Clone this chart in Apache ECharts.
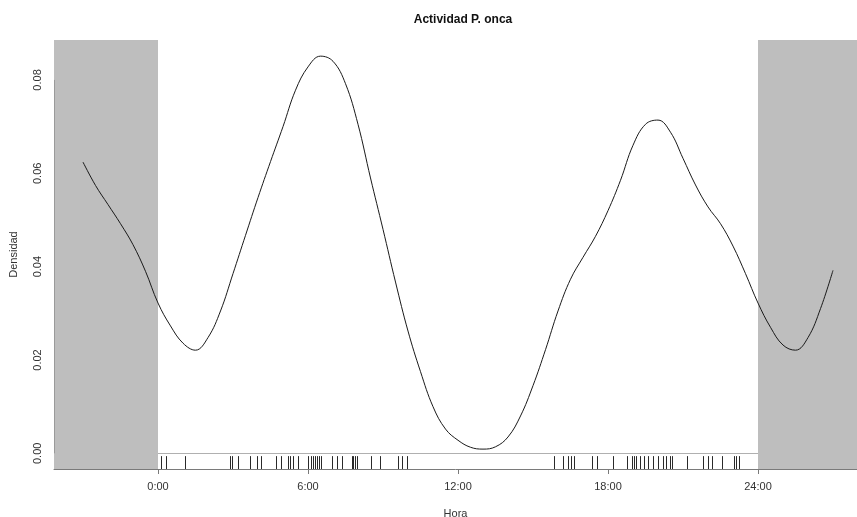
<!DOCTYPE html>
<html>
<head>
<meta charset="utf-8">
<script src="https://cdn.jsdelivr.net/npm/echarts@6/dist/echarts.min.js"></script>
<style>
  html, body { margin: 0; padding: 0; background: #ffffff; }
  #chart { width: 857px; height: 517px; }
</style>
</head>
<body>
<div id="chart"></div>
<script>
// Kernel density of activity (hours), drawn from -3 h to 27 h so the circular day wraps
const hours = [
  -3, -2.5, -2, -1.5, -1, -0.5, 0, 0.5, 1, 1.5, 2, 2.5, 3, 3.5, 4, 4.5, 5, 5.5, 6, 6.5,
  7, 7.5, 8, 8.5, 9, 9.5, 10, 10.5, 11, 11.5, 12, 12.5, 13, 13.5, 14, 14.5, 15, 15.5, 16, 16.5,
  17, 17.5, 18, 18.5, 19, 19.5, 20, 20.5, 21, 21.5, 22, 22.5, 23, 23.5, 24, 24.5, 25, 25.5, 26, 26.5, 27
];
const density = [
  0.0624, 0.0574, 0.0533, 0.0492, 0.0447, 0.0390, 0.0322, 0.0273, 0.0236, 0.0221, 0.0248, 0.0305,
  0.0385, 0.0467, 0.0548, 0.0625, 0.0700, 0.0778, 0.0828, 0.0851, 0.0840, 0.0792, 0.0705, 0.0590,
  0.0480, 0.0367, 0.0262, 0.0175, 0.0100, 0.0052, 0.0028, 0.0013, 0.0009, 0.0014, 0.0035, 0.0080,
  0.0145, 0.0222, 0.0305, 0.0373, 0.0420, 0.0465, 0.0520, 0.0585, 0.0660, 0.0705, 0.0714, 0.0688,
  0.0632, 0.0575, 0.0528, 0.0492, 0.0444, 0.0385, 0.0322, 0.0270, 0.0232, 0.0221, 0.0248, 0.0310, 0.0392
];
// Individual detection times (rug)
const detections = [
  0.12, 0.32, 1.08, 2.88, 2.95, 3.18, 3.68, 3.95, 4.11, 4.72, 4.91, 5.21, 5.28, 5.39, 5.59,
  6.01, 6.11, 6.19, 6.28, 6.35, 6.45, 6.51, 6.95, 7.15, 7.35, 7.75, 7.81, 7.88, 7.95, 8.51,
  8.88, 9.61, 9.75, 9.97, 15.85, 16.22, 16.41, 16.53, 16.63, 17.37, 17.55, 18.2, 18.75, 18.97,
  19.06, 19.12, 19.28, 19.42, 19.61, 19.78, 19.98, 20.22, 20.3, 20.5, 20.55, 21.15, 21.81,
  22.01, 22.18, 22.55, 23.03, 23.13, 23.25
];
const hourTicks = [0, 6, 12, 18, 24];
const hourTickLabels = ['0:00', '6:00', '12:00', '18:00', '24:00'];
const densityTicks = [0, 0.02, 0.04, 0.06, 0.08];
const densityTickLabels = ['0.00', '0.02', '0.04', '0.06', '0.08'];

// Plot ranges (curve range plus the usual 4% padding)
const xMin = -4.16, xMax = 27.96;
const yMin = -0.00336, yMax = 0.08856;
const dayStart = 0, dayEnd = 24;

const axisGray = '#7a7a7a';
const font = 'Liberation Sans, Arial, sans-serif';

const chart = echarts.init(document.getElementById('chart'), null, { renderer: 'canvas' });

chart.setOption({
  animation: false,
  backgroundColor: '#ffffff',
  title: {
    text: 'Actividad P. onca',
    left: 458, top: 9, textAlign: 'center',
    textStyle: { fontFamily: font, fontSize: 12, fontWeight: 'bold', color: '#111' }
  },
  grid: { left: 54, right: 0, top: 40, bottom: 48, containLabel: false, outerBoundsMode: 'none' },
  xAxis: {
    type: 'value', min: xMin, max: xMax,
    name: 'Hora', nameLocation: 'middle', nameGap: 39,
    nameTextStyle: { fontFamily: font, fontSize: 11, color: '#333' },
    splitLine: { show: false },
    axisLine: { show: true, onZero: false, lineStyle: { color: axisGray, width: 1 } },
    axisTick: { show: true, length: 5, inside: false, customValues: hourTicks, lineStyle: { color: axisGray } },
    axisLabel: {
      customValues: hourTicks, margin: 12,
      fontFamily: font, fontSize: 11, color: '#333',
      formatter: v => hourTickLabels[hourTicks.indexOf(v)]
    }
  },
  yAxis: {
    type: 'value', min: yMin, max: yMax,
    name: 'Densidad', nameLocation: 'middle', nameGap: 35, nameRotate: 90,
    nameTextStyle: { fontFamily: font, fontSize: 11, color: '#333' },
    splitLine: { show: false },
    axisLine: { show: false },
    axisTick: { show: true, length: 5, customValues: densityTicks, lineStyle: { color: axisGray } },
    axisLabel: {
      customValues: densityTicks, rotate: 90, margin: 11,
      fontFamily: font, fontSize: 11, color: '#333',
      formatter: v => densityTickLabels[densityTicks.indexOf(v)]
    }
  },
  series: [
    {
      // night shading outside the 0–24 h day and the reference lines
      type: 'line', data: [], z: 1, silent: true,
      markArea: {
        silent: true,
        itemStyle: { color: '#bebebe' },
        data: [
          [{ xAxis: xMin }, { xAxis: dayStart }],
          [{ xAxis: dayEnd }, { xAxis: xMax }]
        ]
      },
      markLine: {
        silent: true, symbol: 'none', label: { show: false },
        data: [
          [{ coord: [dayStart, 0], lineStyle: { color: '#b0b0b0', width: 1, type: 'solid' } },
           { coord: [dayEnd, 0] }],
          [{ coord: [xMin, densityTicks[0]], lineStyle: { color: '#9a9a9a', width: 1, type: 'solid' } },
           { coord: [xMin, densityTicks[densityTicks.length - 1]] }]
        ]
      }
    },
    {
      type: 'line', z: 3, silent: true,
      data: hours.map((h, i) => [h, density[i]]),
      showSymbol: false, smooth: 0.4,
      lineStyle: { color: '#1a1a1a', width: 1 }
    },
    {
      type: 'custom', z: 3, silent: true,
      data: detections.map(h => [h, yMin]),
      encode: { x: 0, y: 1 },
      renderItem(params, api) {
        const h = api.value(0);
        const bottom = api.coord([h, yMin]);
        const top = api.coord([h, yMin + 0.03 * (yMax - yMin)]);
        const x = Math.round(bottom[0]) + 0.5;
        return {
          type: 'line',
          shape: { x1: x, y1: bottom[1], x2: x, y2: top[1] },
          style: { stroke: '#2a2a2a', lineWidth: 1 }
        };
      }
    }
  ]
});
</script>
</body>
</html>
